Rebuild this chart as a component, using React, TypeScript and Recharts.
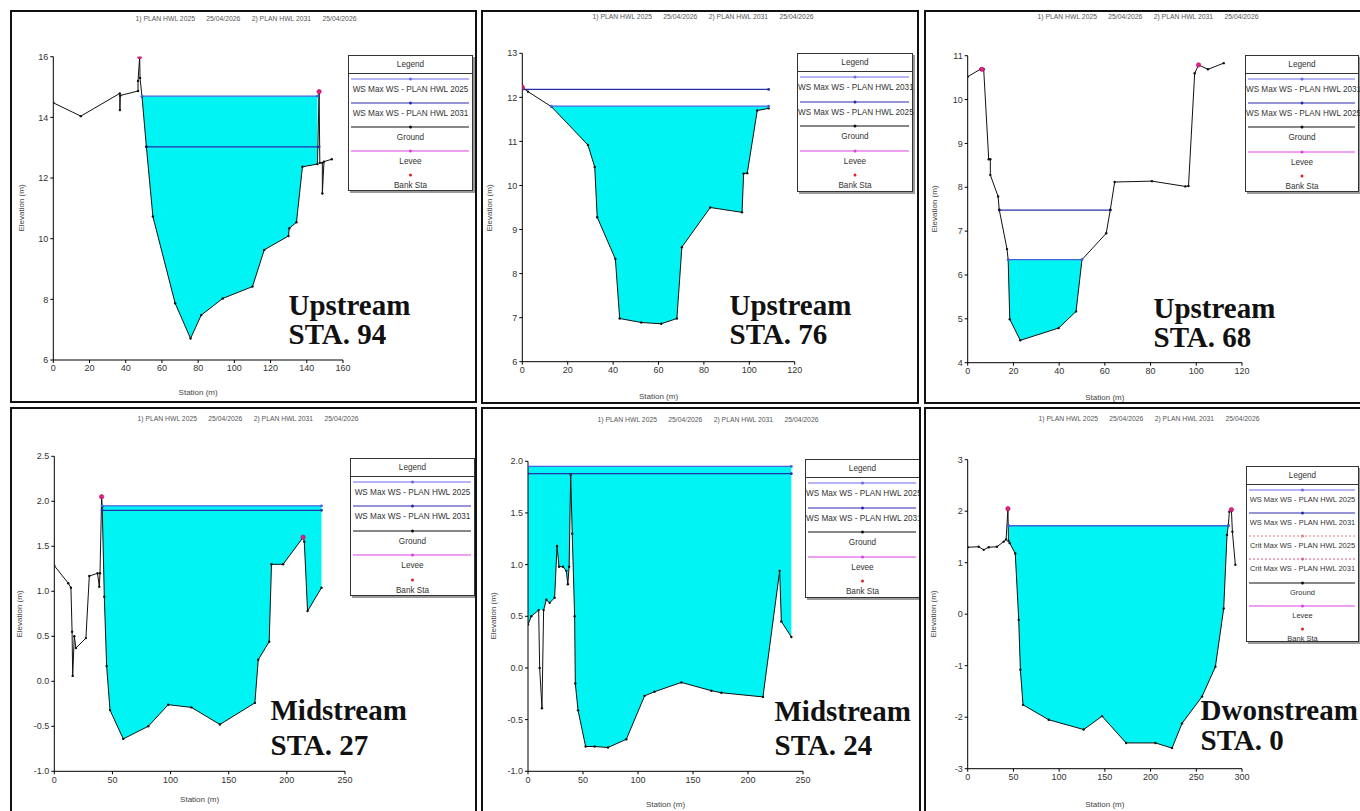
import React from 'react';
import { ComposedChart, Line, Area, Scatter, XAxis, YAxis } from 'recharts';

// plot header text of HEC-RAS cross section output
const planTitle = '1) PLAN HWL 2025      25/04/2026      2) PLAN HWL 2031      25/04/2026';

// ---------- Upstream STA. 94
const sta94Station = [0, 15.2, 36.7, 36.8, 37.0, 46.8, 46.8, 47.7, 47.9, 49, 51.4, 55, 67.3, 75.8, 81.7, 93.6, 110, 116.5, 129.9, 130.3, 134.3, 137.6, 145.9, 146.8, 147.2, 148.6, 148.6, 149.5, 153.8];
const sta94Ground = [14.48, 14.04, 14.79, 14.24, 14.72, 14.87, 15.2, 16.0, 15.3, 14.68, 13.03, 10.73, 7.87, 6.71, 7.48, 8.03, 8.42, 9.63, 10.09, 10.34, 10.54, 12.37, 12.46, 14.85, 12.5, 12.5, 11.49, 12.54, 12.62];
const sta94WsLevels = [14.7, 13.03];
const sta94WsSpans = [[49, 145.9], [51.4, 146.8]];
const sta94LeveeStation = [47.7, 146.8];
const sta94LeveeElev = [16.0, 14.85];
const sta94XTicks = [0, 20, 40, 60, 80, 100, 120, 140, 160];
const sta94YTicks = [6, 8, 10, 12, 14, 16];
const sta94Legend = ['WS Max WS - PLAN HWL 2025', 'WS Max WS - PLAN HWL 2031', 'Ground', 'Levee', 'Bank Sta'];

// ---------- Upstream STA. 76
const sta76Station = [0, 2.5, 12.8, 28.9, 31.9, 33, 41, 42.9, 52.4, 61.2, 68.1, 70.3, 82.8, 96.8, 97.5, 99.1, 103.5, 108.5];
const sta76Ground = [12.23, 12.13, 11.79, 10.92, 10.42, 9.28, 8.33, 6.98, 6.89, 6.86, 6.98, 8.6, 9.5, 9.39, 10.27, 10.28, 11.7, 11.75];
const sta76WsLevels = [11.8, 12.18];
const sta76WsSpans = [[12.8, 108.5], [0, 108.5]];
const sta76LeveeStation = [0];
const sta76LeveeElev = [12.23];
const sta76XTicks = [0, 20, 40, 60, 80, 100, 120];
const sta76YTicks = [6, 7, 8, 9, 10, 11, 12, 13];
const sta76Legend = ['WS Max WS - PLAN HWL 2031', 'WS Max WS - PLAN HWL 2025', 'Ground', 'Levee', 'Bank Sta'];

// ---------- Upstream STA. 68
const sta68Station = [0, 5.5, 7, 9.2, 9.9, 9.9, 13.3, 13.8, 17.2, 17.7, 18.4, 23, 39.8, 47.4, 50, 60.6, 62.4, 64.3, 80.6, 95.2, 96.6, 99.3, 101, 105.1, 112];
const sta68Ground = [10.52, 10.69, 10.69, 8.64, 8.64, 8.28, 7.79, 7.49, 6.59, 6.35, 4.99, 4.51, 4.79, 5.17, 6.35, 6.95, 7.49, 8.12, 8.14, 8.02, 8.03, 10.6, 10.79, 10.69, 10.83];
const sta68WsLevels = [6.35, 7.48];
const sta68WsSpans = [[17.7, 50], [13.8, 62.4]];
const sta68LeveeStation = [6.2, 101];
const sta68LeveeElev = [10.69, 10.79];
const sta68XTicks = [0, 20, 40, 60, 80, 100, 120];
const sta68YTicks = [4, 5, 6, 7, 8, 9, 10, 11];
const sta68Legend = ['WS Max WS - PLAN HWL 2031', 'WS Max WS - PLAN HWL 2025', 'Ground', 'Levee', 'Bank Sta'];

// ---------- Midstream STA. 27
const sta27Station = [0, 12, 14.3, 15.3, 15.8, 17.2, 18.6, 27.2, 30.1, 37.2, 38.7, 39.3, 40.7, 41.2, 43, 45, 47.9, 59.3, 80.8, 98, 118, 142.4, 172.5, 175.4, 184.8, 186.8, 196.8, 214, 215, 217.8, 229.8];
const sta27Ground = [1.285, 1.09, 1.04, 0.55, 0.06, 0.5, 0.37, 0.48, 1.17, 1.2, 1.05, 1.2, 2.05, 1.94, 0.94, 0.17, -0.32, -0.64, -0.5, -0.26, -0.29, -0.48, -0.24, 0.24, 0.44, 1.3, 1.3, 1.6, 1.55, 0.78, 1.04];
const sta27WsLevels = [1.95, 1.9];
const sta27WsSpans = [[41.2, 229.8], [41.2, 229.8]];
const sta27LeveeStation = [40.7, 214];
const sta27LeveeElev = [2.05, 1.6];
const sta27XTicks = [0, 50, 100, 150, 200, 250];
const sta27YTicks = [-1, -0.5, 0, 0.5, 1, 1.5, 2, 2.5];
const sta27Legend = ['WS Max WS - PLAN HWL 2025', 'WS Max WS - PLAN HWL 2031', 'Ground', 'Levee', 'Bank Sta'];

// ---------- Midstream STA. 24
const sta24Station = [0, 3, 9.7, 10.6, 12.7, 14.2, 16.7, 19.7, 24.2, 26.4, 28.2, 31.8, 34.8, 36.2, 37.4, 38.8, 40.2, 42.4, 43, 45.5, 52.4, 60.6, 72.7, 89.4, 106, 115, 139.4, 166.7, 175.8, 213.6, 228.8, 230.3, 239.4];
const sta24Ground = [0.42, 0.5, 0.56, 0, -0.39, 0.56, 0.66, 0.63, 0.68, 1.18, 0.98, 0.98, 0.94, 0.81, 0.98, 1.87, 1.3, 0.5, -0.15, -0.41, -0.76, -0.76, -0.77, -0.69, -0.27, -0.23, -0.14, -0.22, -0.24, -0.28, 0.94, 0.45, 0.3];
const sta24WsLevels = [1.95, 1.88];
const sta24WsSpans = [[0, 239.4], [0, 239.4]];
const sta24DryPocket = [10, 14];
const sta24LeveeStation: number[] = [];
const sta24LeveeElev: number[] = [];
const sta24XTicks = [0, 50, 100, 150, 200, 250];
const sta24YTicks = [-1, -0.5, 0, 0.5, 1, 1.5, 2];
const sta24Legend = ['WS Max WS - PLAN HWL 2025', 'WS Max WS - PLAN HWL 2031', 'Ground', 'Levee', 'Bank Sta'];

// ---------- Downstream STA. 0
const sta0Station = [0, 12, 17.5, 23, 32, 39.4, 42, 44, 44.6, 46, 52, 55.8, 57.6, 60.5, 88.6, 126.9, 146.9, 173.2, 205.3, 223.5, 234.4, 256.3, 270.9, 280, 283.6, 285, 286.2, 288.4, 289.5, 292.7];
const sta0Ground = [1.3, 1.31, 1.25, 1.3, 1.31, 1.41, 1.45, 2.05, 1.42, 1.38, 1.18, -0.11, -1.08, -1.76, -2.05, -2.24, -1.98, -2.5, -2.5, -2.6, -2.12, -1.6, -1.02, 0.11, 1.54, 1.72, 1.99, 2.03, 1.6, 0.96];
const sta0WsLevels = [1.72, 1.72];
const sta0WsSpans = [[44.6, 285], [44.6, 285]];
const sta0LeveeStation = [44, 288.4];
const sta0LeveeElev = [2.05, 2.03];
const sta0XTicks = [0, 50, 100, 150, 200, 250, 300];
const sta0YTicks = [-3, -2, -1, 0, 1, 2, 3];
const sta0Legend = ['WS Max WS - PLAN HWL 2025', 'WS Max WS - PLAN HWL 2031', 'Crit Max WS - PLAN HWL 2025', 'Crit Max WS - PLAN HWL 2031', 'Ground', 'Levee', 'Bank Sta'];

const fmtInt = (v: number) => String(v);
const fmt1 = (v: number) => v.toFixed(1);

const SECTIONS = [
  { name: ['Upstream', 'STA. 94'], station: sta94Station, ground: sta94Ground, wsLevels: sta94WsLevels, wsSpans: sta94WsSpans, leveeStation: sta94LeveeStation, leveeElev: sta94LeveeElev, xTicks: sta94XTicks, yTicks: sta94YTicks, legend: sta94Legend, fmt: fmtInt },
  { name: ['Upstream', 'STA. 76'], station: sta76Station, ground: sta76Ground, wsLevels: sta76WsLevels, wsSpans: sta76WsSpans, leveeStation: sta76LeveeStation, leveeElev: sta76LeveeElev, xTicks: sta76XTicks, yTicks: sta76YTicks, legend: sta76Legend, fmt: fmtInt },
  { name: ['Upstream', 'STA. 68'], station: sta68Station, ground: sta68Ground, wsLevels: sta68WsLevels, wsSpans: sta68WsSpans, leveeStation: sta68LeveeStation, leveeElev: sta68LeveeElev, xTicks: sta68XTicks, yTicks: sta68YTicks, legend: sta68Legend, fmt: fmtInt },
  { name: ['Midstream', 'STA. 27'], station: sta27Station, ground: sta27Ground, wsLevels: sta27WsLevels, wsSpans: sta27WsSpans, leveeStation: sta27LeveeStation, leveeElev: sta27LeveeElev, xTicks: sta27XTicks, yTicks: sta27YTicks, legend: sta27Legend, fmt: fmt1 },
  { name: ['Midstream', 'STA. 24'], station: sta24Station, ground: sta24Ground, wsLevels: sta24WsLevels, wsSpans: sta24WsSpans, dryPocket: sta24DryPocket, leveeStation: sta24LeveeStation, leveeElev: sta24LeveeElev, xTicks: sta24XTicks, yTicks: sta24YTicks, legend: sta24Legend, fmt: fmt1 },
  { name: ['Dwonstream', 'STA. 0'], station: sta0Station, ground: sta0Ground, wsLevels: sta0WsLevels, wsSpans: sta0WsSpans, leveeStation: sta0LeveeStation, leveeElev: sta0LeveeElev, xTicks: sta0XTicks, yTicks: sta0YTicks, legend: sta0Legend, fmt: fmtInt },
];

// page layout of the six frames (page pixels); place = cap top of the first caption line + line gap
const LAYOUT = [
  { box: { x: 10, y: 10, w: 467, h: 393 }, plot: { l: 53.3, r: 343, t: 56.7, b: 360 }, legend: { x: 348, y: 55, w: 125, h: 136 }, title: { x: 246, y: 19 }, yLabelX: 22, xLabelY: 393, place: { x: 288.5, y: 296.5, gap: 29 } },
  { box: { x: 481, y: 10, w: 438, h: 394 }, plot: { l: 522.3, r: 794.7, t: 53.3, b: 361.7 }, legend: { x: 797, y: 53, w: 116, h: 139 }, title: { x: 703, y: 17 }, yLabelX: 490, xLabelY: 397, place: { x: 729.5, y: 296, gap: 29 } },
  { box: { x: 924, y: 10, w: 440, h: 394 }, plot: { l: 967.7, r: 1242, t: 55.7, b: 362.7 }, legend: { x: 1245, y: 55, w: 114, h: 137 }, title: { x: 1148, y: 17 }, yLabelX: 935, xLabelY: 398, place: { x: 1153.5, y: 299, gap: 29 } },
  { box: { x: 10, y: 407, w: 467, h: 406 }, plot: { l: 54.3, r: 345, t: 456.3, b: 771.3 }, legend: { x: 350, y: 458, w: 125, h: 138 }, title: { x: 248, y: 419 }, yLabelX: 20, xLabelY: 800, place: { x: 270.5, y: 701, gap: 35 } },
  { box: { x: 481, y: 407, w: 440, h: 406 }, plot: { l: 528, r: 803, t: 461.3, b: 771.3 }, legend: { x: 805, y: 459, w: 115, h: 139 }, title: { x: 708, y: 420 }, yLabelX: 494, xLabelY: 805, place: { x: 774.5, y: 702, gap: 34 } },
  { box: { x: 924, y: 407, w: 440, h: 406 }, plot: { l: 967.7, r: 1242, t: 459.7, b: 768.7 }, legend: { x: 1246, y: 466, w: 113, h: 176 }, title: { x: 1149, y: 419 }, yLabelX: 934, xLabelY: 805, place: { x: 1200.5, y: 701, gap: 30 } },
];

const Y_W = 30;
const X_H = 24;
const CAPTION_PX = 29;
const SANS = '"Liberation Sans", Arial, sans-serif';
const SERIF = '"Liberation Serif", "Times New Roman", serif';
const WATER = '#00f4f4';
const WS_FILL = '#4466dd';
const WS_OTHER = '#2430a8';

const legendStyle = (label: string, i: number) => {
  if (label.startsWith('WS')) return { color: i === 0 ? '#6a6af0' : '#2a2ab0', dash: undefined as string | undefined, line: true };
  if (label.startsWith('Crit')) return { color: i === 2 ? '#e08080' : '#e05a8a', dash: '2 2', line: true };
  if (label === 'Ground') return { color: '#111', dash: undefined, line: true };
  if (label === 'Levee') return { color: '#e040e0', dash: undefined, line: true };
  return { color: '#e02020', dash: undefined, line: false };
};

function LegendBox({ items, left, top, w, h }: { items: string[]; left: number; top: number; w: number; h: number }) {
  const headerH = 17;
  const itemH = (h - headerH - 4) / items.length;
  const longest = Math.max(...items.map((t) => t.length));
  const fontSize = Math.min(8.2, (w - 8) / (longest * 0.52));
  return (
    <div style={{ position: 'absolute', left, top, width: w, height: h, border: '1px solid #333', boxShadow: '2px 2px 0 #9a9a9a', background: '#fff', boxSizing: 'border-box', fontFamily: SANS, fontSize, color: '#333' }}>
      <div style={{ height: headerH, borderBottom: '1px solid #333', textAlign: 'center', lineHeight: headerH + 'px', fontSize: 8.2 }}>Legend</div>
      {items.map((label, i) => {
        const st = legendStyle(label, i);
        return (
          <div key={label} style={{ height: itemH, position: 'relative' }}>
            <svg width={w - 2} height={8} style={{ display: 'block', marginTop: 1 }}>
              {st.line && <line x1={2} x2={w - 5} y1={4} y2={4} stroke={st.color} strokeWidth={1.2} strokeDasharray={st.dash} />}
              <circle cx={(w - 2) / 2} cy={4} r={1.5} fill={st.color} />
            </svg>
            <div style={{ textAlign: 'center', lineHeight: itemH - 10 + 'px', whiteSpace: 'nowrap' }}>{label}</div>
          </div>
        );
      })}
    </div>
  );
}

const LeveeDot = (p: any) => <circle cx={p.cx} cy={p.cy} r={2.2} fill="#e0208a" stroke="#b01060" strokeWidth={0.6} />;

function CrossSection({ s, lay }: { s: any; lay: any }) {
  const ox = lay.box.x + 2;
  const oy = lay.box.y + 2;
  const cw = lay.box.w - 4;
  const ch = lay.box.h - 4;
  const margin = {
    left: lay.plot.l - ox - Y_W,
    top: lay.plot.t - oy,
    right: ox + cw - lay.plot.r,
    bottom: oy + ch - lay.plot.b - X_H,
  };
  const groundPts = s.station.map((x: number, i: number) => ({ x, y: s.ground[i] }));
  const [from, to] = s.wsSpans[0];
  const waterPts = groundPts
    .filter((p: any) => p.x >= from && p.x <= to && !(s.dryPocket && p.x > s.dryPocket[0] && p.x < s.dryPocket[1]))
    .map((p: any) => ({ x: p.x, range: [p.y, s.wsLevels[0]] }));
  const wsLines = s.wsLevels.map((lv: number, i: number) => [
    { x: s.wsSpans[i][0], y: lv },
    { x: s.wsSpans[i][1], y: lv },
  ]);
  const levees = s.leveeStation.map((x: number, i: number) => ({ x, y: s.leveeElev[i] }));
  const xT = s.xTicks;
  const yT = s.yTicks;
  const tick = { fontSize: 9, fill: '#333', fontFamily: SANS };
  const plotCx = (lay.plot.l + lay.plot.r) / 2 - ox;
  const plotCy = (lay.plot.t + lay.plot.b) / 2 - oy;
  // cap-top offset of a serif bold line inside its line box
  const gap = lay.place.gap;
  const capOffset = (gap - 1.107 * CAPTION_PX) / 2 + (0.891 - 0.662) * CAPTION_PX;

  return (
    <div style={{ position: 'absolute', left: lay.box.x, top: lay.box.y, width: lay.box.w, height: lay.box.h, border: '2px solid #111', boxSizing: 'border-box', background: '#fff', overflow: 'hidden' }}>
      <div style={{ position: 'absolute', left: 0, top: 0 }}>
        <ComposedChart width={cw} height={ch} margin={margin}>
          <XAxis type="number" dataKey="x" domain={[xT[0], xT[xT.length - 1]]} ticks={xT} interval={0} height={X_H} tickSize={3} stroke="#000" tick={tick} allowDataOverflow />
          <YAxis type="number" domain={[yT[0], yT[yT.length - 1]]} ticks={yT} interval={0} width={Y_W} tickSize={3} stroke="#000" tick={tick} tickFormatter={s.fmt} allowDataOverflow />
          <Area data={waterPts} dataKey="range" type="linear" fill={WATER} fillOpacity={1} stroke="none" isAnimationActive={false} />
          <Line data={wsLines[1]} dataKey="y" type="linear" stroke={WS_OTHER} strokeWidth={1.2} dot={{ r: 1.4, fill: WS_OTHER, strokeWidth: 0 }} isAnimationActive={false} />
          <Line data={groundPts} dataKey="y" type="linear" stroke="#111" strokeWidth={1} dot={{ r: 1.2, fill: '#111', strokeWidth: 0 }} isAnimationActive={false} />
          <Line data={wsLines[0]} dataKey="y" type="linear" stroke={WS_FILL} strokeWidth={1.2} dot={{ r: 1.4, fill: WS_FILL, strokeWidth: 0 }} isAnimationActive={false} />
          <Scatter data={levees} dataKey="y" shape={LeveeDot} isAnimationActive={false} />
        </ComposedChart>
      </div>
      <div style={{ position: 'absolute', left: lay.title.x - ox - 160, top: lay.title.y - oy - 5, width: 320, textAlign: 'center', fontFamily: SANS, fontSize: 6.8, lineHeight: '10px', color: '#555', whiteSpace: 'pre' }}>{planTitle}</div>
      <div style={{ position: 'absolute', left: lay.yLabelX - ox - 50, top: plotCy - 5, width: 100, textAlign: 'center', fontFamily: SANS, fontSize: 8, lineHeight: '10px', color: '#444', transform: 'rotate(-90deg)' }}>Elevation (m)</div>
      <div style={{ position: 'absolute', left: plotCx - 50, top: lay.xLabelY - oy - 5, width: 100, textAlign: 'center', fontFamily: SANS, fontSize: 8, lineHeight: '10px', color: '#444' }}>Station (m)</div>
      <LegendBox items={s.legend} left={lay.legend.x - ox} top={lay.legend.y - oy} w={lay.legend.w} h={lay.legend.h} />
      <div style={{ position: 'absolute', left: lay.place.x - ox, top: lay.place.y - oy - capOffset, fontFamily: SERIF, fontWeight: 'bold', fontSize: CAPTION_PX, lineHeight: gap + 'px', color: '#111', whiteSpace: 'nowrap' }}>
        {s.name[0]}
        <br />
        {s.name[1]}
      </div>
    </div>
  );
}

export default function App() {
  return (
    <div style={{ position: 'fixed', left: 0, top: 0, width: 1360, height: 811, overflow: 'hidden', background: '#fff' }}>
      {SECTIONS.map((s, i) => (
        <CrossSection key={s.name[1]} s={s} lay={LAYOUT[i]} />
      ))}
    </div>
  );
}
